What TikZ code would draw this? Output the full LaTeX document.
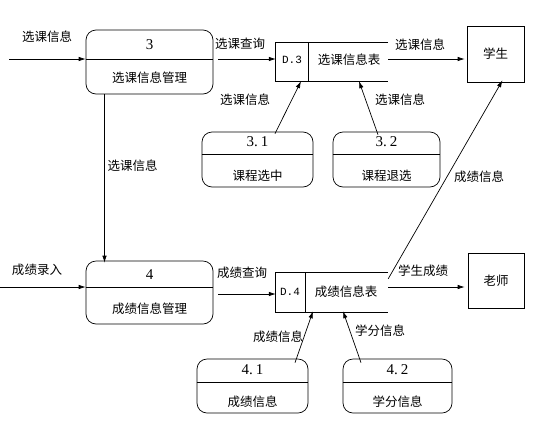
\documentclass[tikz,border=0pt]{standalone}
\usepackage{fontspec}
\setmainfont{Liberation Serif}
\newfontfamily\cjk{Noto Sans CJK SC}
\setmonofont{Liberation Mono}
\usetikzlibrary{arrows.meta}
\begin{document}
\begin{tikzpicture}[x=1pt,y=-1pt,
  arr/.style={-{Latex[length=7pt,width=4.5pt]},line width=0.7pt},
  proc/.style={draw,line width=0.7pt,rounded corners=10pt,inner sep=0pt},
  ent/.style={draw,line width=0.7pt,inner sep=0pt},
  storebox/.style={inner sep=0pt},
  lbl/.style={font=\cjk\fontsize{12.5}{14}\selectfont,inner sep=0pt},
  num/.style={font=\fontsize{15}{17}\selectfont,inner sep=0pt},
  sid/.style={font=\ttfamily\fontsize{11}{13}\selectfont,inner sep=0pt},
  sl/.style={line width=0.7pt}]
\useasboundingbox[fill=white] (0,0) rectangle (537,426);

% processes
\node[proc,minimum width=127pt,minimum height=64pt] (p3) at (149.5,62) {};
\draw[sl] (p3.west |- 0,59) -- (p3.east |- 0,59);
\node[num] (p3n) at (149.5,45) {3};
\node[lbl] (p3t) at (149.5,78) {选课信息管理};

\node[proc,minimum width=127pt,minimum height=63pt] (p4) at (149.5,292.5) {};
\draw[sl] (p4.west |- 0,287) -- (p4.east |- 0,287);
\node[num] (p4n) at (149.5,275) {4};
\node[lbl] (p4t) at (149.5,309) {成绩信息管理};

\node[proc,minimum width=111pt,minimum height=55pt] (p31) at (257.5,159.5) {};
\draw[sl] (p31.west |- 0,154) -- (p31.east |- 0,154);
\node[num] (p31n) at (257.5,142) {3.\kern3pt1};
\node[lbl] (p31t) at (257.5,176) {课程选中};

\node[proc,minimum width=107pt,minimum height=55pt] (p32) at (386.5,159.5) {};
\draw[sl] (p32.west |- 0,154) -- (p32.east |- 0,154);
\node[num] (p32n) at (386.5,142) {3.\kern3pt2};
\node[lbl] (p32t) at (386.5,176) {课程退选};

\node[proc,minimum width=111pt,minimum height=54pt] (p41) at (252.5,386) {};
\draw[sl] (p41.west |- 0,382) -- (p41.east |- 0,382);
\node[num] (p41n) at (252.5,370) {4.\kern3pt1};
\node[lbl] (p41t) at (252.5,402) {成绩信息};

\node[proc,minimum width=109pt,minimum height=54pt] (p42) at (397.5,386) {};
\draw[sl] (p42.west |- 0,382) -- (p42.east |- 0,382);
\node[num] (p42n) at (397.5,370) {4.\kern3pt2};
\node[lbl] (p42t) at (397.5,402) {学分信息};

% data stores
\node[storebox,minimum width=112pt,minimum height=38pt] (d3) at (332,62) {};
\draw[sl] (d3.north east) -- (d3.north west) -- (d3.south west) -- (d3.south east);
\draw[sl] (308,43) -- (308,81);
\node[sid] (d3i) at (292,60) {D.3};
\node[lbl] (d3t) at (349,60) {选课信息表};

\node[storebox,minimum width=112pt,minimum height=39pt] (d4) at (332,292.5) {};
\draw[sl] (d4.north east) -- (d4.north west) -- (d4.south west) -- (d4.south east);
\draw[sl] (305,273) -- (305,312);
\node[sid] (d4i) at (290,292) {D.4};
\node[lbl] (d4t) at (346,292) {成绩信息表};

% entities
\node[ent,minimum width=57pt,minimum height=56pt] (stu) at (495.5,54) {};
\node[lbl] (stut) at (495.5,54) {学生};
\node[ent,minimum width=56pt,minimum height=55pt] (tea) at (496,280.5) {};
\node[lbl] (teat) at (496,280.5) {老师};

% connectors
\coordinate (in3) at (9,59);
\coordinate (in4) at (0,287);
\draw[arr] (in3) -- (p3.west |- in3);
\draw[arr] (in4) -- (p4.west |- in4);
\draw[arr] ([xshift=5pt]p3.east |- 0,59) -- (d3.west |- 0,59);
\draw[arr] (d3.east |- 0,59) -- ([xshift=-2pt]stu.west |- 0,59);
\draw[arr] ([xshift=17.5pt,yshift=-2pt]p31.north) -- ([xshift=-31pt]d3.south);
\draw[arr] ([xshift=-8.5pt,yshift=-3pt]p32.north) -- ([xshift=27pt]d3.south);
\draw[arr] ([xshift=-45pt]p3.south) -- ([xshift=-45pt,yshift=-2pt]p4.north);
\draw[arr] ([xshift=5pt]p4.east |- 0,294) -- (d4.west |- 0,294);
\draw[arr] (d4.east |- 0,287) -- ([xshift=-3pt]tea.west |- 0,287);
\draw[arr] ([yshift=-6pt]d4.north east) -- ([xshift=7pt,yshift=2pt]stu.south);
\draw[arr] ([xshift=42.5pt,yshift=-4pt]p41.north) -- ([xshift=-19pt,yshift=1pt]d4.south);
\draw[arr] ([xshift=-36.5pt,yshift=-4pt]p42.north) -- ([xshift=11pt,yshift=1pt]d4.south);

% flow labels
\node[lbl] (l1) at (47,37) {选课信息};
\node[lbl] (l2) at (240,44) {选课查询};
\node[lbl] (l3) at (420,45) {选课信息};
\node[lbl] (l4) at (245,100) {选课信息};
\node[lbl] (l5) at (400,100) {选课信息};
\node[lbl] (l6) at (132.5,166) {选课信息};
\node[lbl] (l7) at (479,177) {成绩信息};
\node[lbl] (l8) at (37,270) {成绩录入};
\node[lbl] (l9) at (242,273) {成绩查询};
\node[lbl] (l10) at (423,271) {学生成绩};
\node[lbl] (l11) at (278,337) {成绩信息};
\node[lbl] (l12) at (380,331) {学分信息};
\end{tikzpicture}
\end{document}
